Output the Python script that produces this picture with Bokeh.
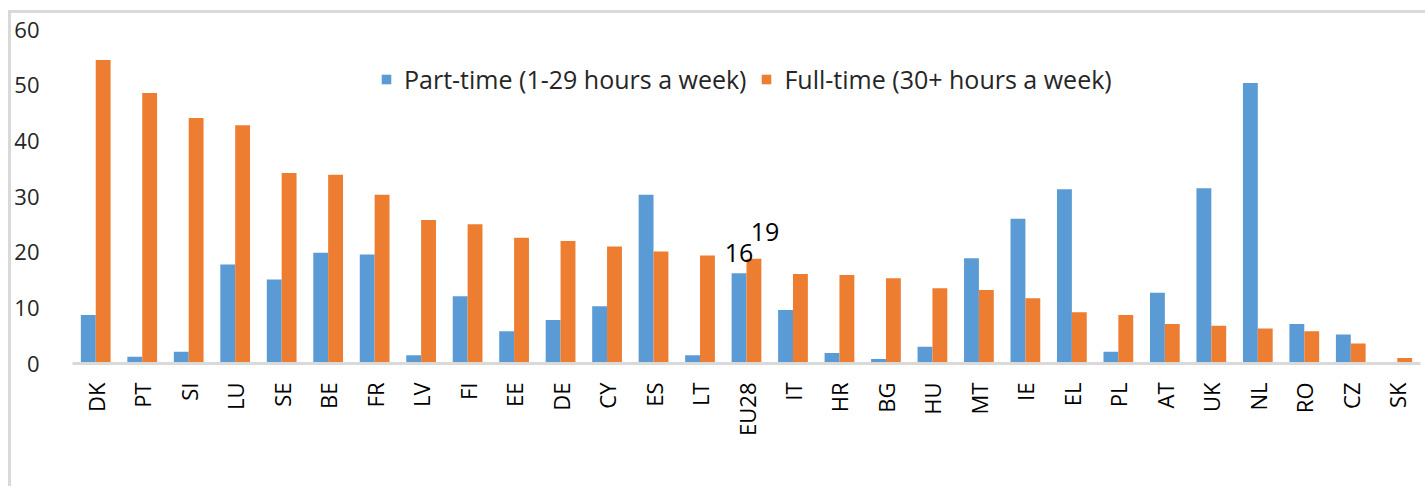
import math
from bokeh.plotting import figure
from bokeh.models import ColumnDataSource, Legend, LegendItem, Range1d, SingleIntervalTicker
from bokeh.transform import dodge
from bokeh.embed import file_html
from bokeh.resources import INLINE
from bokeh.core.properties import value

countries = ["DK", "PT", "SI", "LU", "SE", "BE", "FR", "LV", "FI", "EE", "DE", "CY", "ES", "LT",
             "EU28", "IT", "HR", "BG", "HU", "MT", "IE", "EL", "PL", "AT", "UK", "NL", "RO", "CZ", "SK"]
part_time = [8.7, 1.2, 2.1, 17.8, 15.1, 19.9, 19.6, 1.5, 12.1, 5.8, 7.8, 10.3, 30.3, 1.5,
             16.2, 9.6, 1.9, 0.8, 3.0, 18.9, 26.0, 31.3, 2.1, 12.7, 31.5, 50.4, 7.1, 5.2, 0.0]
full_time = [54.5, 48.6, 44.1, 42.8, 34.2, 33.9, 30.3, 25.8, 25.0, 22.6, 22.0, 21.0, 20.1, 19.4,
             18.8, 16.1, 15.9, 15.3, 13.5, 13.2, 11.7, 9.2, 8.7, 7.1, 6.8, 6.3, 5.8, 3.6, 1.0]
series_names = ["Part-time (1-29 hours a week)", "Full-time (30+ hours a week)"]
label_country = "EU28"
label_texts = ["16", "19"]

BLUE = "#5B9BD5"
ORANGE = "#ED7D31"
FONT = "Open Sans"

src = ColumnDataSource(dict(country=countries, part=part_time, full=full_time))

p = figure(x_range=countries, y_range=Range1d(0, 60), width=1417, height=476,
           output_backend="svg", toolbar_location=None,
           min_border_left=60, min_border_right=8, min_border_top=16, min_border_bottom=126)
p.styles = {"border-left": "3px solid #d9d9d9", "border-top": "3px solid #d9d9d9",
            "margin-top": "10px", "margin-left": "8px"}
p.outline_line_color = None
p.xgrid.grid_line_color = None
p.ygrid.grid_line_color = None

r1 = p.vbar(x=dodge("country", -0.16, range=p.x_range), top="part", width=0.32, source=src,
            fill_color=BLUE, line_color=None)
r2 = p.vbar(x=dodge("country", 0.16, range=p.x_range), top="full", width=0.32, source=src,
            fill_color=ORANGE, line_color=None)

i = countries.index(label_country)
lsrc = ColumnDataSource(dict(x=[label_country, label_country], y=[part_time[i], full_time[i]],
                             t=label_texts, dx=[0, 26], dy=[-11, -18]))
p.text(x=dodge("x", -0.16, range=p.x_range), y="y", text="t", source=lsrc,
       x_offset="dx", y_offset="dy", text_align="center", text_baseline="bottom",
       text_font=value(FONT), text_font_size="25px", text_color="#000000")

p.yaxis.ticker = SingleIntervalTicker(interval=10)
p.yaxis.axis_line_color = None
p.yaxis.major_tick_line_color = None
p.yaxis.minor_tick_line_color = None
p.yaxis.major_label_text_font = FONT
p.yaxis.major_label_text_font_size = "22px"
p.yaxis.major_label_text_color = "#262626"
p.yaxis.major_label_standoff = 27

p.xaxis.axis_line_color = "#d9d9d9"
p.xaxis.axis_line_width = 3
p.xaxis.major_tick_line_color = None
p.xaxis.minor_tick_line_color = None
p.xaxis.major_label_orientation = math.pi / 2
p.xaxis.major_label_text_font = FONT
p.xaxis.major_label_text_font_size = "22px"
p.xaxis.major_label_text_color = "#000000"
p.xaxis.major_label_standoff = 13

legend = Legend(items=[LegendItem(label=series_names[0], renderers=[r1]),
                       LegendItem(label=series_names[1], renderers=[r2])],
                orientation="horizontal", location=(308, 267),
                glyph_width=12, glyph_height=12, label_standoff=12, spacing=14,
                padding=0, margin=0, border_line_color=None, background_fill_alpha=0,
                label_text_font=FONT, label_text_font_size="25px", label_text_color="#262626")
p.add_layout(legend)

open("out.html", "w").write(file_html(p, INLINE))
